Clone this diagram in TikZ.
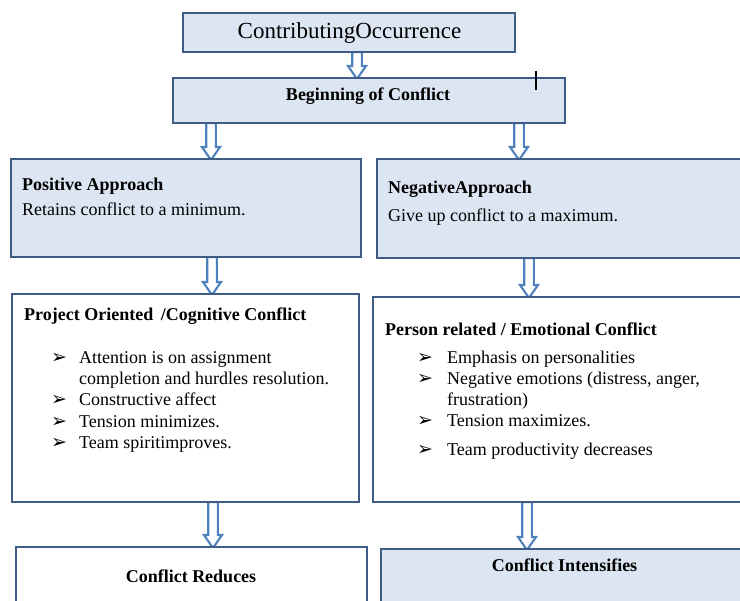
\documentclass[tikz,border=0pt]{standalone}
\usepackage{fontspec}
\setmainfont{Liberation Serif}
\newfontfamily\symfont{DejaVu Sans}
\usetikzlibrary{calc,backgrounds}

\definecolor{boxfill}{HTML}{DCE6F2}
\definecolor{boxline}{HTML}{3E5C86}
\definecolor{arrowline}{HTML}{4F81BD}

% hollow block arrow from the bottom of node #2 to the top of node #3 at x = #1
\newcommand\flowarrow[3]{%
  \draw[hollowarrow] let \p1=(#2.south), \p2=(#3.north) in
    (#1-4.8,\y1) -- (#1-4.8,\y2+12) -- (#1-9,\y2+12) -- (#1,\y2-1)
    -- (#1+9,\y2+12) -- (#1+4.8,\y2+12) -- (#1+4.8,\y1) -- cycle;}

\begin{document}
\begin{tikzpicture}[x=1pt,y=-1pt,
  box/.style={draw=boxline, line width=1.4pt, anchor=north west,
    inner sep=0pt, outer sep=0pt},
  bluebox/.style={box, fill=boxfill},
  whitebox/.style={box, fill=white},
  hollowarrow/.style={draw=arrowline, fill=white, line width=2.1pt,
    line join=miter},
  txt/.style={anchor=base west, inner sep=0pt,
    font=\fontsize{18}{21}\selectfont},
  head/.style={txt, font=\fontsize{18}{21}\selectfont\bfseries},
  centred/.style={head, anchor=base},
  bul/.style={anchor=base west, inner sep=0pt,
    font=\fontsize{19}{21}\symfont}]
\useasboundingbox (0,0) rectangle (740,601);

% boxes
\node[bluebox, minimum width=332pt, minimum height=39pt] (occ) at (183,13) {};
\node[bluebox, minimum width=392pt, minimum height=45pt] (begin) at (173,78) {};
\node[bluebox, minimum width=350pt, minimum height=98pt] (pos) at (11,159) {};
\node[bluebox, minimum width=380pt, minimum height=99pt] (neg) at (377,159) {};
\node[whitebox, minimum width=347pt, minimum height=208pt] (proj) at (12,294) {};
\node[whitebox, minimum width=380pt, minimum height=205pt] (pers) at (373,297) {};
\node[whitebox, minimum width=351pt, minimum height=70pt] (red) at (16,547) {};
\node[bluebox, minimum width=370pt, minimum height=70pt] (inten) at (381,549) {};

% connectors
\begin{pgfonlayer}{background}
  \flowarrow{357}{occ}{begin}
  \flowarrow{211}{begin}{pos}
  \flowarrow{519}{begin}{neg}
  \flowarrow{212}{pos}{proj}
  \flowarrow{529}{neg}{pers}
  \flowarrow{213}{proj}{red}
  \flowarrow{527}{pers}{inten}
\end{pgfonlayer}

% text cursor mark
\draw[line width=1.2pt] (536,71) -- (536,90);

% labels
\node[anchor=base, inner sep=0pt, font=\fontsize{23}{26}\selectfont]
  (occt) at (349.5,38.3) {ContributingOccurrence};
\node[centred] (begint) at (368,100.7) {Beginning of Conflict};

\node[head] (posh) at (22,191) {Positive Approach};
\node[txt] (post) at (22,215.7) {Retains conflict to a minimum.};

\node[head] (negh) at (388,194) {NegativeApproach};
\node[txt] (negt) at (388,221.7) {Give up conflict to a maximum.};

\node[head] (projh) at (24,320.7) {Project Oriented \,/Cognitive Conflict};
\node[bul] (pb1) at (51,364) {➢};
\node[txt] (pi1) at (79,364) {Attention is on assignment};
\node[txt] (pi1b) at (79,385) {completion and hurdles resolution.};
\node[bul] (pb2) at (51,406) {➢};
\node[txt] (pi2) at (79,406) {Constructive affect};
\node[bul] (pb3) at (51,427.5) {➢};
\node[txt] (pi3) at (79,427.5) {Tension minimizes.};
\node[bul] (pb4) at (51,448.3) {➢};
\node[txt] (pi4) at (79,448.3) {Team spiritimproves.};

\node[head] (persh) at (385,335.7) {Person related / Emotional Conflict};
\node[bul] (nb1) at (417,363.3) {➢};
\node[txt] (ni1) at (447,363.3) {Emphasis on personalities};
\node[bul] (nb2) at (417,384.3) {➢};
\node[txt] (ni2) at (447,384.3) {Negative emotions (distress, anger,};
\node[txt] (ni2b) at (447,405.7) {frustration)};
\node[bul] (nb3) at (417,426.7) {➢};
\node[txt] (ni3) at (447,426.7) {Tension maximizes.};
\node[bul] (nb4) at (417,455.7) {➢};
\node[txt] (ni4) at (447,455.7) {Team productivity decreases};

\node[centred] (redt) at (191,582.7) {Conflict Reduces};
\node[centred] (intent) at (564.5,572) {Conflict Intensifies};
\end{tikzpicture}
\end{document}
